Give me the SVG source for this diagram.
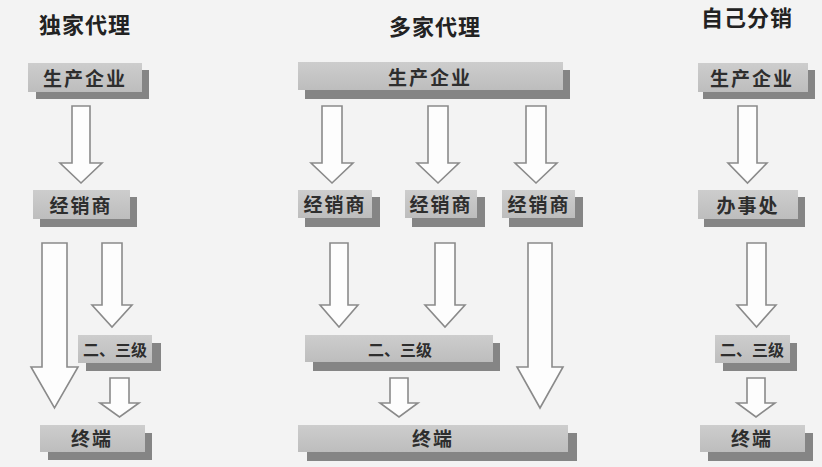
<svg xmlns="http://www.w3.org/2000/svg" width="822" height="467" viewBox="0 0 822 467">
<style>
.bg{fill:#f3f3f3}
.sh{fill:#858585}
.fr{fill:url(#g)}
.t{font-family:"Liberation Sans","Noto Sans CJK SC",sans-serif;font-weight:bold;fill:#2e2e2e;text-anchor:middle}
.b{font-size:19px;letter-spacing:2px}
.s{font-size:16px}
.h{font-family:"Liberation Serif","Noto Sans CJK SC",serif;font-weight:bold;font-size:22px;fill:#222;text-anchor:middle;letter-spacing:1px}
.a{fill:#fdfdfd;stroke:#8a8a8a;stroke-width:1.6;stroke-linejoin:miter}
</style>
<defs>
<linearGradient id="g" x1="0" y1="0" x2="0" y2="1">
<stop offset="0" stop-color="#cdcdcd"/>
<stop offset="1" stop-color="#bdbdbd"/>
</linearGradient>
</defs>
<rect class="bg" width="822" height="467"/>
<text class="h" x="85" y="33">独家代理</text>
<text class="h" x="435" y="35">多家代理</text>
<text class="h" x="747" y="26">自己分销</text>

<g id="connectors">
<path class="a" d="M72 106H90V163H102L81 183L60 163H72Z"/>
<path class="a" d="M42 243H67V367H78L54.5 408L31 367H42Z"/>
<path class="a" d="M102 243H122V305H132L112 327L92 305H102Z"/>
<path class="a" d="M110 378H129V403H139L119.5 417L100 403H110Z"/>
<path class="a" d="M322 106H342V163H353L332 183L311 163H322Z"/>
<path class="a" d="M428 106H448V163H459L438 183L417 163H428Z"/>
<path class="a" d="M526 106H546V163H557L536 183L515 163H526Z"/>
<path class="a" d="M330 243H348V305H358L339 327L320 305H330Z"/>
<path class="a" d="M435 243H455V305H465L445 327L425 305H435Z"/>
<path class="a" d="M528 243H552V367H563L540 408L517 367H528Z"/>
<path class="a" d="M390 378H408V403H418L399 417L380 403H390Z"/>
<path class="a" d="M738 106H757V163H767L747.5 183L728 163H738Z"/>
<path class="a" d="M747 243H766V305H776L756.5 327L737 305H747Z"/>
<path class="a" d="M747 378H765V403H775L756 417L737 403H747Z"/>
</g>

<g id="l-prod"><rect class="sh" x="36" y="70" width="113" height="29"/><rect class="fr" x="28" y="63" width="114" height="29"/><text class="t b" x="85" y="86">生产企业</text></g>
<g id="l-dist"><rect class="sh" x="40" y="197" width="97" height="30"/><rect class="fr" x="33" y="190" width="97" height="29"/><text class="t b" x="81" y="213">经销商</text></g>
<g id="l-sub"><rect class="sh" x="86" y="343" width="75" height="28"/><rect class="fr" x="78" y="335" width="74" height="28"/><text class="t s" x="115" y="356">二、三级</text></g>
<g id="l-end"><rect class="sh" x="48" y="433" width="104" height="27"/><rect class="fr" x="40" y="425" width="105" height="27"/><text class="t b" x="92" y="446">终端</text></g>

<g id="m-prod"><rect class="sh" x="305" y="70" width="265" height="29"/><rect class="fr" x="298" y="62" width="265" height="28"/><text class="t b" x="430" y="85">生产企业</text></g>
<g id="m-dist1"><rect class="sh" x="305" y="197" width="75" height="30"/><rect class="fr" x="298" y="190" width="74" height="28"/><text class="t b" x="335" y="212">经销商</text></g>
<g id="m-dist2"><rect class="sh" x="412" y="197" width="73" height="30"/><rect class="fr" x="405" y="190" width="72" height="28"/><text class="t b" x="441" y="212">经销商</text></g>
<g id="m-dist3"><rect class="sh" x="509" y="197" width="74" height="30"/><rect class="fr" x="502" y="190" width="73" height="28"/><text class="t b" x="539" y="212">经销商</text></g>
<g id="m-sub"><rect class="sh" x="313" y="343" width="187" height="28"/><rect class="fr" x="305" y="335" width="188" height="27"/><text class="t s" x="400" y="356">二、三级</text></g>
<g id="m-end"><rect class="sh" x="307" y="433" width="270" height="28"/><rect class="fr" x="298" y="425" width="270" height="27"/><text class="t b" x="433" y="446">终端</text></g>

<g id="r-prod"><rect class="sh" x="703" y="70" width="112" height="29"/><rect class="fr" x="698" y="63" width="110" height="29"/><text class="t b" x="752" y="86">生产企业</text></g>
<g id="r-office"><rect class="sh" x="704" y="197" width="101" height="30"/><rect class="fr" x="698" y="190" width="100" height="29"/><text class="t b" x="748" y="213">办事处</text></g>
<g id="r-sub"><rect class="sh" x="723" y="343" width="74" height="28"/><rect class="fr" x="715" y="335" width="75" height="28"/><text class="t s" x="752" y="356">二、三级</text></g>
<g id="r-end"><rect class="sh" x="708" y="433" width="105" height="28"/><rect class="fr" x="700" y="425" width="105" height="27"/><text class="t b" x="752" y="446">终端</text></g>
</svg>
